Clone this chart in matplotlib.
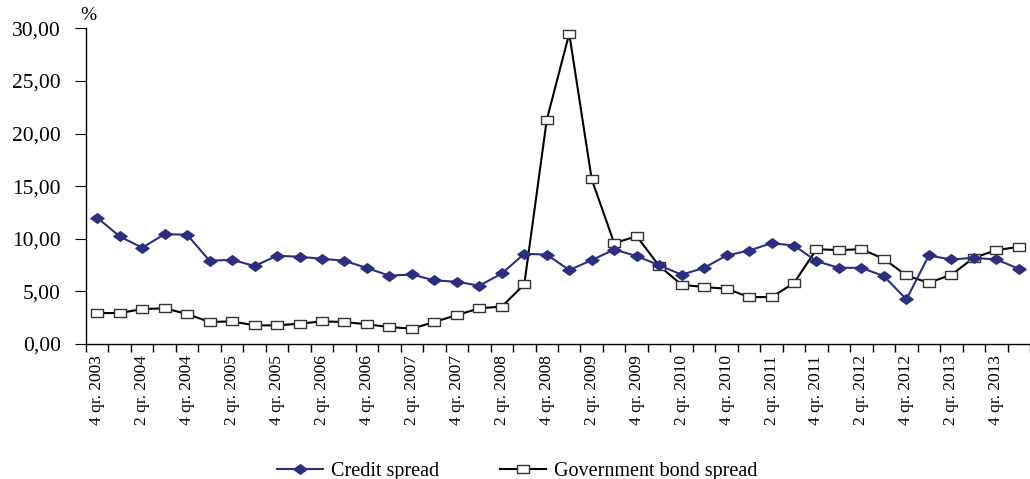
import matplotlib
matplotlib.use("Agg")
import matplotlib.pyplot as plt
from matplotlib.ticker import FixedLocator, FuncFormatter
from matplotlib.path import Path
import numpy as np

quarters = []
q, y = 4, 2003
for _ in range(42):
    quarters.append(f"{q} qr. {y}")
    q += 1
    if q > 4:
        q, y = 1, y + 1

credit_spread = [12.0, 10.22, 9.15, 10.44, 10.38, 7.91, 8.0, 7.41, 8.39, 8.29,
                 8.10, 7.91, 7.22, 6.49, 6.61, 6.04, 5.92, 5.54, 6.70, 8.57,
                 8.50, 7.02, 7.97, 8.98, 8.35, 7.49, 6.58, 7.24, 8.41, 8.88,
                 9.58, 9.36, 7.87, 7.24, 7.24, 6.45, 4.24, 8.41, 8.03, 8.19,
                 8.03, 7.15]
gov_spread = [2.94, 2.94, 3.32, 3.39, 2.85, 2.09, 2.15, 1.77, 1.77, 1.93,
              2.15, 2.09, 1.87, 1.61, 1.46, 2.09, 2.75, 3.39, 3.56, 5.66,
              21.3, 29.5, 15.65, 9.58, 10.24, 7.43, 5.63, 5.41, 5.25, 4.46,
              4.46, 5.79, 9.01, 8.92, 9.01, 8.09, 6.51, 5.82, 6.58, 8.19,
              8.92, 9.23]
yticks = [0, 5, 10, 15, 20, 25, 30]

plt.rcParams['font.family'] = ['Liberation Serif', 'DejaVu Serif']

W, H = 1030, 479
fig = plt.figure(figsize=(W / 100, H / 100), dpi=100)
left, right = 86 / W, 1030 / W
bottom, top = (H - 344) / H, (H - 28.3) / H
ax = fig.add_axes([left, bottom, right - left, top - bottom])

x = np.arange(len(quarters))
navy = '#2B2F80'
rect = Path([(-1.45, -1), (1.45, -1), (1.45, 1), (-1.45, 1), (-1.45, -1)],
            [Path.MOVETO, Path.LINETO, Path.LINETO, Path.LINETO, Path.CLOSEPOLY])
diam = Path([(0, -0.8), (1.1, 0), (0, 0.8), (-1.1, 0), (0, -0.8)],
            [Path.MOVETO, Path.LINETO, Path.LINETO, Path.LINETO, Path.CLOSEPOLY])

ax.plot(x, credit_spread, color=navy, lw=1.5, marker=diam, markersize=9.5,
        markerfacecolor=navy, markeredgecolor=navy, label='Credit spread', zorder=3)
ax.plot(x, gov_spread, color='black', lw=1.5, marker=rect, markersize=9,
        markerfacecolor='white', markeredgecolor='#333333', markeredgewidth=1.0,
        label='Government bond spread', zorder=2)

ax.set_xlim(-0.5, len(quarters) - 0.5)
ax.set_ylim(0, 30)
ax.set_yticks(yticks)
ax.yaxis.set_major_formatter(FuncFormatter(lambda v, p: f"{v:.2f}".replace('.', ',')))

ax.set_xticks(x[::2])
ax.set_xticklabels(quarters[::2], rotation=90, fontsize=12.5)
ax.xaxis.set_minor_locator(FixedLocator(np.arange(-0.5, len(quarters), 1)))
ax.tick_params(axis='x', which='major', length=0, pad=8)
ax.tick_params(axis='x', which='minor', length=6, direction='out', width=1)
ax.tick_params(axis='y', length=8, direction='out', labelsize=15.5, pad=10)

for s in ['top', 'right']:
    ax.spines[s].set_visible(False)
for s in ['left', 'bottom']:
    ax.spines[s].set_linewidth(1.0)

fig.text(80 / W, 1 - 16 / H, '%', fontsize=14, ha='left', va='center')

leg = fig.legend(loc='center', bbox_to_anchor=(517 / W, 1 - 471 / H), ncol=2,
                 frameon=False, fontsize=14.5, handlelength=2.3, columnspacing=3.0,
                 handletextpad=0.4)

fig.savefig('out.png', dpi=100)
